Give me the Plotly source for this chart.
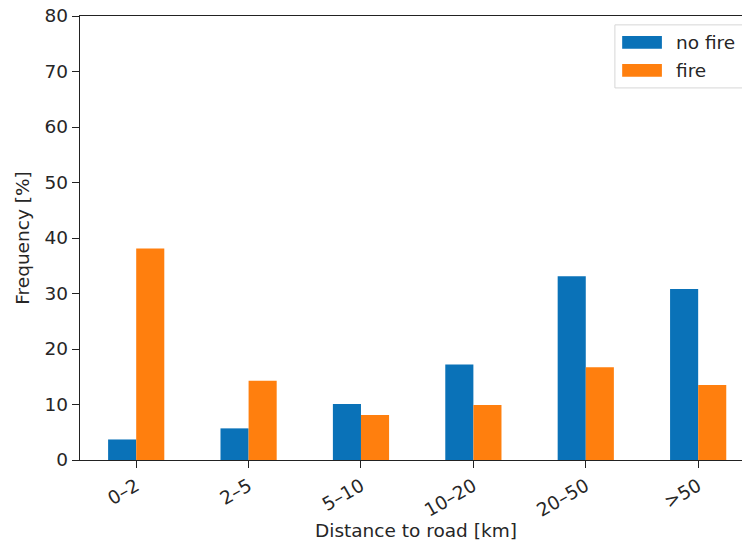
import plotly.graph_objects as go

# Distance-to-road classes and frequency of each class [%]
categories = ["0–2", "2–5", "5–10", "10–20", "20–50", ">50"]
no_fire = [3.7, 5.7, 10.1, 17.2, 33.1, 30.8]
fire = [38.1, 14.3, 8.1, 9.9, 16.7, 13.5]
y_ticks = [0, 10, 20, 30, 40, 50, 60, 70, 80]

BLUE = "#0a72b8"
ORANGE = "#ff7f0e"
FONT = dict(family="DejaVu Sans", size=18.5, color="#262626")

fig = go.Figure()
fig.add_trace(go.Bar(x=categories, y=no_fire, name="no fire",
                     marker=dict(color=BLUE, line=dict(width=0))))
fig.add_trace(go.Bar(x=categories, y=fire, name="fire",
                     marker=dict(color=ORANGE, line=dict(width=0))))

# legend drawn as a framed box with wide colour patches
shapes = [
    dict(type="rect", xref="paper", yref="paper", x0=0.808, x1=1.03,
         y0=0.838, y1=0.980, line=dict(color="#d6d6d6", width=1),
         fillcolor="rgba(255,255,255,0.85)", layer="above"),
    dict(type="rect", xref="paper", yref="paper", x0=0.819, x1=0.879,
         y0=0.926, y1=0.955, line=dict(width=0), fillcolor=BLUE, layer="above"),
    dict(type="rect", xref="paper", yref="paper", x0=0.819, x1=0.879,
         y0=0.863, y1=0.892, line=dict(width=0), fillcolor=ORANGE, layer="above"),
]
annotations = [
    dict(text="no fire", xref="paper", yref="paper", x=0.898, y=0.941,
         xanchor="left", yanchor="middle", showarrow=False, font=FONT),
    dict(text="fire", xref="paper", yref="paper", x=0.898, y=0.877,
         xanchor="left", yanchor="middle", showarrow=False, font=FONT),
    dict(text="Distance to road [km]", xref="paper", yref="paper",
         x=0.5076, y=-0.159, xanchor="center", yanchor="middle",
         showarrow=False, font=FONT),
]

fig.update_layout(
    width=742, height=543,
    margin=dict(l=80, r=0, t=16, b=83),
    paper_bgcolor="white", plot_bgcolor="white",
    barmode="group", bargap=0.5, bargroupgap=0,
    showlegend=False,
    font=FONT,
    shapes=shapes,
    annotations=annotations,
)
fig.update_xaxes(
    type="category", categoryorder="array", categoryarray=categories,
    range=[-0.5, 5.39],
    showline=True, linecolor="#222", linewidth=1.3, mirror=True,
    ticks="outside", ticklen=7, tickwidth=1.3, tickcolor="#222",
    tickangle=-30, showgrid=False, zeroline=False, automargin=False,
    tickfont=FONT,
)
fig.update_yaxes(
    range=[0, 80], tickvals=y_ticks,
    showline=True, linecolor="#222", linewidth=1.3, mirror=False,
    ticks="outside", ticklen=7, tickwidth=1.3, tickcolor="#222",
    showgrid=False, zeroline=False, automargin=False,
    tickfont=FONT,
    title=dict(text="Frequency [%]", font=FONT, standoff=10),
)

fig.write_html("out.html")
